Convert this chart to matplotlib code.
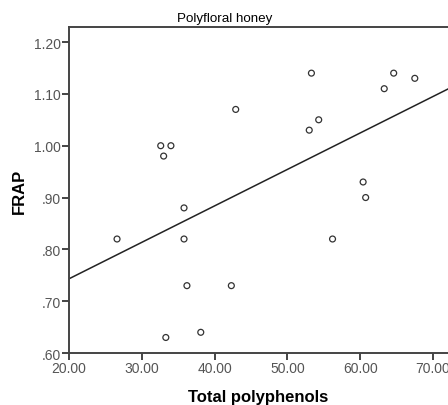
import numpy as np
import matplotlib.pyplot as plt

# Total polyphenols vs FRAP, polyfloral honey
polifenoli = [26.6, 32.6, 33.0, 34.0, 35.8, 35.8, 36.2, 33.3, 38.1, 42.3, 42.9,
              53.0, 53.3, 54.3, 56.2, 60.4, 60.75, 63.3, 64.6, 67.5]
frap = [0.82, 1.00, 0.98, 1.00, 0.88, 0.82, 0.73, 0.63, 0.64, 0.73, 1.07,
        1.03, 1.14, 1.05, 0.82, 0.93, 0.90, 1.11, 1.14, 1.13]

xticks = [20, 30, 40, 50, 60, 70]
yticks = [0.60, 0.70, 0.80, 0.90, 1.00, 1.10, 1.20]
ylabels = ['.60', '.70', '.80', '.90', '1.00', '1.10', '1.20']

plt.rcParams['font.family'] = ['Liberation Sans', 'DejaVu Sans']

fig = plt.figure(figsize=(4.48, 4.06), dpi=100)
ax = fig.add_axes([0.154, 0.128, 0.846, 0.803])

x = np.array(polifenoli)
y = np.array(frap)
ax.scatter(x, y, s=18, facecolors='none', edgecolors='#333333', linewidths=0.9, zorder=3)

# linea di regressione
b, a = np.polyfit(x, y, 1)
xl = np.array([20, 80])
ax.plot(xl, a + b*xl, color='#222222', lw=1.1)

ax.set_xlim(20, 72.06)
ax.set_ylim(0.60, 1.229)
ax.set_xticks(xticks)
ax.set_xticklabels(['%.2f' % v for v in xticks])
ax.set_yticks(yticks)
ax.set_yticklabels(ylabels)

for s in ['left', 'bottom', 'top']:
    ax.spines[s].set_color('#444444')
    ax.spines[s].set_linewidth(1.4)
ax.spines['right'].set_visible(False)
ax.tick_params(direction='out', length=5, width=1.4, color='#444444',
               labelsize=10, labelcolor='#555555', pad=1)

# il titolo nell'originale e' centrato sull'immagine, non sugli assi
ax.set_title('Polyfloral honey', fontsize=9.6, x=0.412, pad=4)
ax.set_xlabel('Total polyphenols', fontsize=12, fontweight='bold', labelpad=10)
ax.set_ylabel('FRAP', fontsize=12, fontweight='bold', labelpad=5)

fig.savefig('out.png', dpi=100)
